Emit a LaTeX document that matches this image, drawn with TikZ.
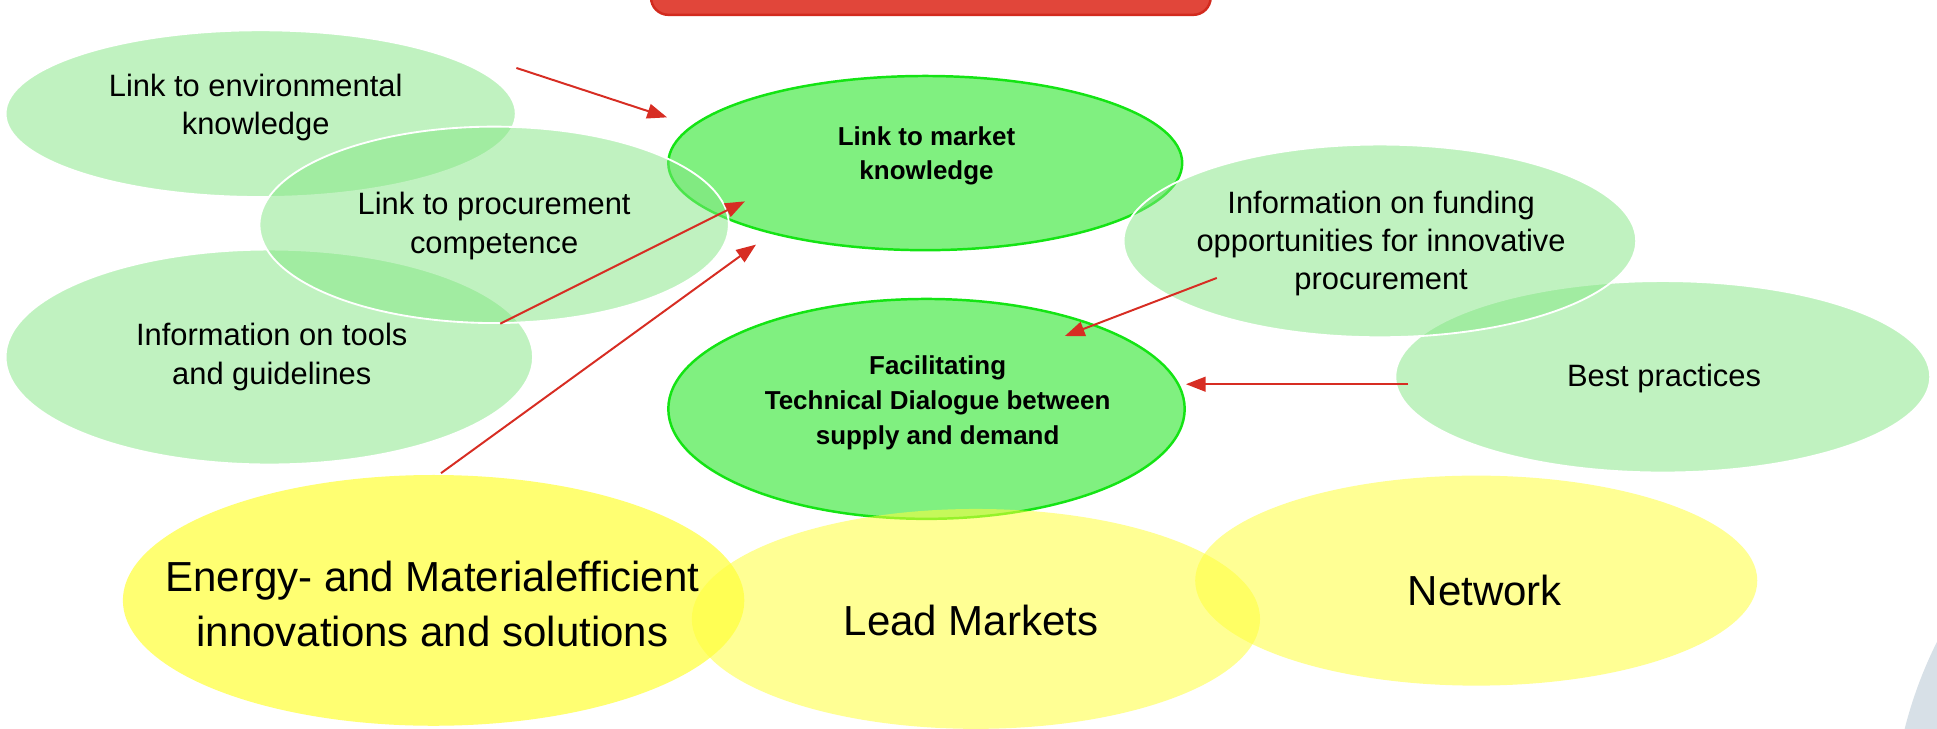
\documentclass[tikz,border=0pt]{standalone}
\usepackage{fontspec}
\setmainfont{Liberation Sans}
\usetikzlibrary{shapes.geometric,arrows.meta}
\definecolor{lgreen}{RGB}{130,230,130}
\definecolor{mgreen}{RGB}{128,240,128}
\definecolor{bgreen}{RGB}{20,228,20}
\definecolor{yel}{RGB}{255,255,60}
\definecolor{arrowred}{RGB}{215,45,35}
\definecolor{boxred}{RGB}{225,70,58}
\definecolor{boxedge}{RGB}{210,42,30}
\definecolor{greyblue}{RGB}{215,224,231}
\begin{document}
\begin{tikzpicture}[x=1pt,y=-1pt,
  light/.style={ellipse, fill=lgreen, fill opacity=0.5, draw=white, line width=1.5pt, inner sep=0pt},
  main/.style={ellipse, fill=mgreen, draw=bgreen, line width=2pt, inner sep=0pt},
  big/.style={ellipse, fill=yel, fill opacity=0.55, inner sep=0pt},
  lighttext/.style={inner sep=0pt, align=center, font=\fontsize{25}{31}\selectfont},
  maintext/.style={inner sep=0pt, align=center, font=\fontsize{21}{28}\selectfont\bfseries},
  bigtext/.style={inner sep=0pt, align=center, font=\fontsize{34}{44}\selectfont},
  arr/.style={draw=arrowred, line width=1.6pt, -{Triangle[length=16pt,width=12pt]}}]
\useasboundingbox (0,0) rectangle (1568,590);

% grey-blue arc at lower right
\fill[greyblue] (1884,677) circle (353pt);

% red box at the top (cut off)
\node[draw=boxedge, fill=boxred, line width=2pt, rounded corners=14pt,
      minimum width=453pt, minimum height=60pt, inner sep=0pt] (top) at (753.5,-18) {};

% main green ellipses
\node[main, minimum width=416pt, minimum height=141pt] (LM) at (749,132) {};
\node[main, minimum width=418pt, minimum height=178pt] (FT) at (750,331) {};

% light green ellipses
\node[light, minimum width=413pt, minimum height=135pt] (E1) at (211,92) {};
\node[light, minimum width=427pt, minimum height=174pt] (E3) at (218,289) {};
\node[light, minimum width=433pt, minimum height=155pt] (E5) at (1346,305) {};
\node[light, minimum width=380pt, minimum height=159pt] (E2) at (400,182) {};
\node[light, minimum width=415pt, minimum height=156pt] (E4) at (1117,195) {};

% yellow ellipses
\node[big, minimum width=455pt, minimum height=170pt] (Y3) at (1195,470) {};
\node[big, minimum width=460pt, minimum height=178pt] (Y2) at (790,501) {};
\node[big, fill opacity=0.72, minimum width=503pt, minimum height=203pt] (Y1) at (351,486) {};

% texts
\node[lighttext] (t1) at (207,87) {Link to environmental\\knowledge};
\node[lighttext] (t2) at (400,183) {Link to procurement\\competence};
\node[lighttext] (t3) at (220,289) {Information on tools\\and guidelines};
\node[lighttext] (t4) at (1118,197) {Information on funding\\opportunities for innovative\\procurement};
\node[lighttext] (t5) at (1347,306) {Best practices};
\node[maintext] (tLM) at (750,126) {Link to market\\knowledge};
\node[maintext] (tFT) at (759,326) {Facilitating\\Technical Dialogue between\\supply and demand};
\node[bigtext] (tY1) at (350,489) {Energy- and Materialefficient\\innovations and solutions};
\node[bigtext] (tY2) at (786,502) {Lead Markets};
\node[bigtext] (tY3) at (1202,478) {Network};

% arrows
\coordinate (a1s) at (418,55);  \coordinate (a1e) at (540,95);
\coordinate (a2s) at (405,262); \coordinate (a2e) at (603,163);
\coordinate (a3s) at (357,383); \coordinate (a3e) at (612,198);
\coordinate (a4s) at (985,225); \coordinate (a4e) at (862,272);
\coordinate (a5s) at (1140,311); \coordinate (a5e) at (960,311);
\draw[arr] (a1s) -- (a1e);
\draw[arr] (a2s) -- (a2e);
\draw[arr] (a3s) -- (a3e);
\draw[arr] (a4s) -- (a4e);
\draw[arr] (a5s) -- (a5e);
\end{tikzpicture}
\end{document}
